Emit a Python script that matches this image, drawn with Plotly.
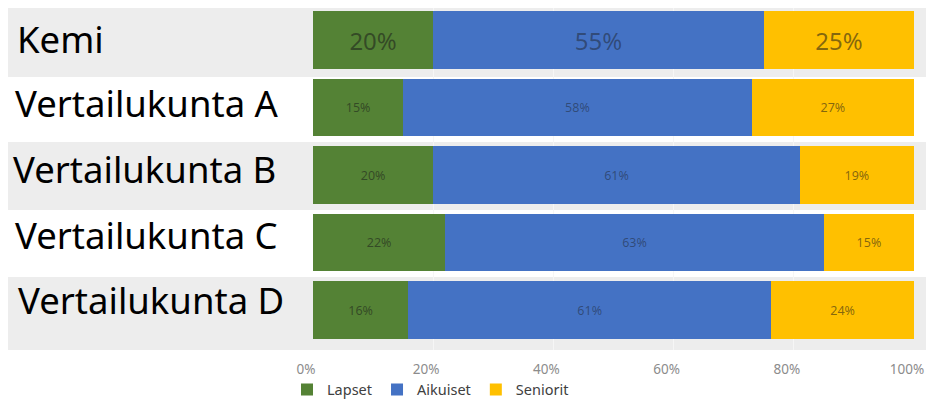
import plotly.graph_objects as go

# ---- data ----
categories = ["Kemi", "Vertailukunta A", "Vertailukunta B", "Vertailukunta C", "Vertailukunta D"]
lapset = [20, 15, 20, 22, 16]
aikuiset = [55, 58, 61, 63, 61]
seniorit = [25, 27, 19, 15, 24]
series_names = ["Lapset", "Aikuiset", "Seniorit"]
tick_values = [0, 20, 40, 60, 80, 100]
tick_labels = ["0%", "20%", "40%", "60%", "80%", "100%"]

# ---- style ----
# the page adds an 8px body margin, so the figure is 16px smaller than the window
W, H = 918, 391
colors = ["#548235", "#4472C4", "#FFC000"]
text_colors = ["rgba(25,25,25,0.55)", "rgba(25,25,25,0.45)", "rgba(25,25,25,0.55)"]
label_sizes = [24, 12.5, 12.5, 12.5, 12.5]
label_x_px = [7.0, 5.0, 3.0, 5.0, 8.0]
label_y_px = [31, 95, 160.5, 226.5, 291.5]
band_rows = [(-0.6, 0.548), (1.511, 2.519), (3.511, 4.593)]

x_left, x_right = 305, 906
y_top, y_bottom = -1.75, 342.0   # rows: 67.5 px each
row_h = 67.5

fig = go.Figure()
for name, vals, col, tcol in zip(series_names, [lapset, aikuiset, seniorit], colors, text_colors):
    fig.add_trace(go.Bar(
        name=name,
        y=categories,
        x=vals,
        orientation="h",
        marker=dict(color=col, line=dict(width=0)),
        text=[f"{v}%" for v in vals],
        texttemplate="%{text}",
        textposition="inside",
        insidetextanchor="middle",
        textangle=0,
        textfont=dict(family="Noto Sans", size=label_sizes, color=tcol),
        hoverinfo="skip",
    ))

shapes = []
for y0, y1 in band_rows:
    shapes.append(dict(type="rect", xref="paper", yref="y", x0=0, x1=1,
                       y0=y0, y1=y1, fillcolor="#ededed", line=dict(width=0), layer="below"))

annotations = []
for cat, xp, yp in zip(categories, label_x_px, label_y_px):
    annotations.append(dict(text=cat, xref="paper", yref="paper", x=xp / W, y=1 - yp / H,
                            xanchor="left", yanchor="middle", showarrow=False,
                            font=dict(family="Noto Sans", size=36.5, color="black")))

# data value at the top of the plotting area (fig y = 0) and at its bottom
v_at_top = -0.5 + (0 - y_top) / row_h
v_at_bottom = -0.5 + (y_bottom - y_top) / row_h

fig.update_layout(
    width=W, height=H,
    margin=dict(l=0, r=0, t=0, b=0, autoexpand=False),
    paper_bgcolor="white", plot_bgcolor="rgba(0,0,0,0)",
    barmode="stack", barnorm="percent", bargap=0.155,
    shapes=shapes, annotations=annotations,
    showlegend=True,
    legend=dict(orientation="h", x=279 / W, y=1 - 381.5 / H, xanchor="left", yanchor="middle",
                font=dict(family="Noto Sans", size=14.5, color="#404040"),
                bgcolor="rgba(0,0,0,0)", itemwidth=30, traceorder="normal"),
    xaxis=dict(domain=[x_left / W, x_right / W], range=[0, 100], tickmode="array",
               tickvals=tick_values, ticktext=tick_labels,
               showgrid=True, gridcolor="#f6f6f6", zeroline=False, automargin=False,
               showline=False, ticks="", ticklabelstandoff=9, ticklabelshift=-7,
               ticklabeloverflow="allow",
               tickfont=dict(family="Noto Sans", size=13.5, color="#8c8c8c"), fixedrange=True),
    yaxis=dict(domain=[1 - y_bottom / H, 1], type="category",
               categoryorder="array", categoryarray=categories, automargin=False,
               range=[v_at_bottom, v_at_top], showticklabels=False, showgrid=False, zeroline=False,
               showline=False, ticks="", fixedrange=True),
)

fig.write_html("out.html")
